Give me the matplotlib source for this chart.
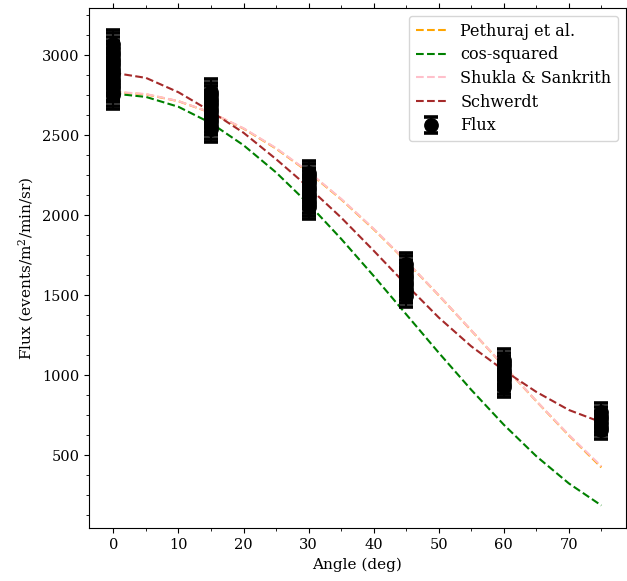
import matplotlib
matplotlib.use('Agg')
import matplotlib.pyplot as plt
from matplotlib.ticker import AutoMinorLocator

plt.rcParams['font.family'] = 'DejaVu Serif'
plt.rcParams['mathtext.fontset'] = 'dejavuserif'

# model curves, every 5 degrees
curve_angle = [0, 5, 10, 15, 20, 25, 30, 35, 40, 45, 50, 55, 60, 65, 70, 75]
pethuraj = [2770, 2755, 2712, 2640, 2541, 2416, 2268, 2099, 1912, 1711, 1499, 1279, 1057, 837, 623, 423]
cos_squared = [2760, 2739, 2677, 2575, 2437, 2267, 2070, 1852, 1620, 1380, 1140, 908, 690, 493, 323, 185]
shukla = [2772, 2757, 2713, 2641, 2543, 2419, 2271, 2102, 1915, 1713, 1500, 1280, 1058, 838, 626, 430]
schwerdt = [2890, 2858, 2768, 2648, 2515, 2350, 2174, 1985, 1778, 1565, 1360, 1180, 1030, 895, 782, 705]

# measured flux, several runs per angle
angles = [0, 15, 30, 45, 60, 75]
flux_0 = [2752, 2771, 2795, 2812, 2834, 2853, 2877, 2895, 2916, 2938, 2957, 2979, 3001, 3022, 3046, 3070]
flux_15 = [2538, 2557, 2580, 2601, 2622, 2643, 2664, 2686, 2705, 2727, 2748, 2768]
flux_30 = [2048, 2070, 2091, 2113, 2133, 2156, 2178, 2199, 2221, 2243, 2264]
flux_45 = [1497, 1519, 1541, 1563, 1585, 1607, 1628, 1650, 1672, 1694]
flux_60 = [926, 947, 969, 990, 1011, 1032, 1054, 1075, 1096]
flux_75 = [655, 678, 700, 723, 746, 768]
flux_err = [90, 80, 75, 70, 65, 55]

runs = [flux_0, flux_15, flux_30, flux_45, flux_60, flux_75]
x, y, yerr = [], [], []
for a, vals, e in zip(angles, runs, flux_err):
    x += [a] * len(vals)
    y += vals
    yerr += [e] * len(vals)

fig = plt.figure(figsize=(6.27, 5.81), dpi=100)
ax = fig.add_axes([0.142, 0.0912, 0.856, 0.8948])

ax.plot(curve_angle, pethuraj, '--', color='orange', label='Pethuraj et al.')
ax.plot(curve_angle, cos_squared, '--', color='green', label='cos-squared')
ax.plot(curve_angle, shukla, '--', color='pink', label='Shukla & Sankrith')
ax.plot(curve_angle, schwerdt, '--', color='brown', label='Schwerdt')
ax.errorbar(x, y, yerr=yerr, fmt='o', color='black', markersize=9.6,
            capsize=4.8, capthick=2.6, label='Flux')

ax.set_xlim(-3.75, 78.75)
ax.set_ylim(44, 3294)
ax.set_xlabel('Angle (deg)', fontsize=11)
ax.set_ylabel('Flux (events/m$^2$/min/sr)', fontsize=11)
ax.set_xticks([0, 10, 20, 30, 40, 50, 60, 70])
ax.set_yticks([500, 1000, 1500, 2000, 2500, 3000])
ax.xaxis.set_minor_locator(AutoMinorLocator(2))
ax.yaxis.set_minor_locator(AutoMinorLocator(4))
ax.tick_params(which='both', direction='out', top=True, right=True, labelsize=10.5)
ax.tick_params(which='major', length=3.5)
ax.tick_params(which='minor', length=2)
ax.legend(loc='upper right', fontsize=11.5, labelspacing=0.42)

fig.savefig('out.png', dpi=100)
